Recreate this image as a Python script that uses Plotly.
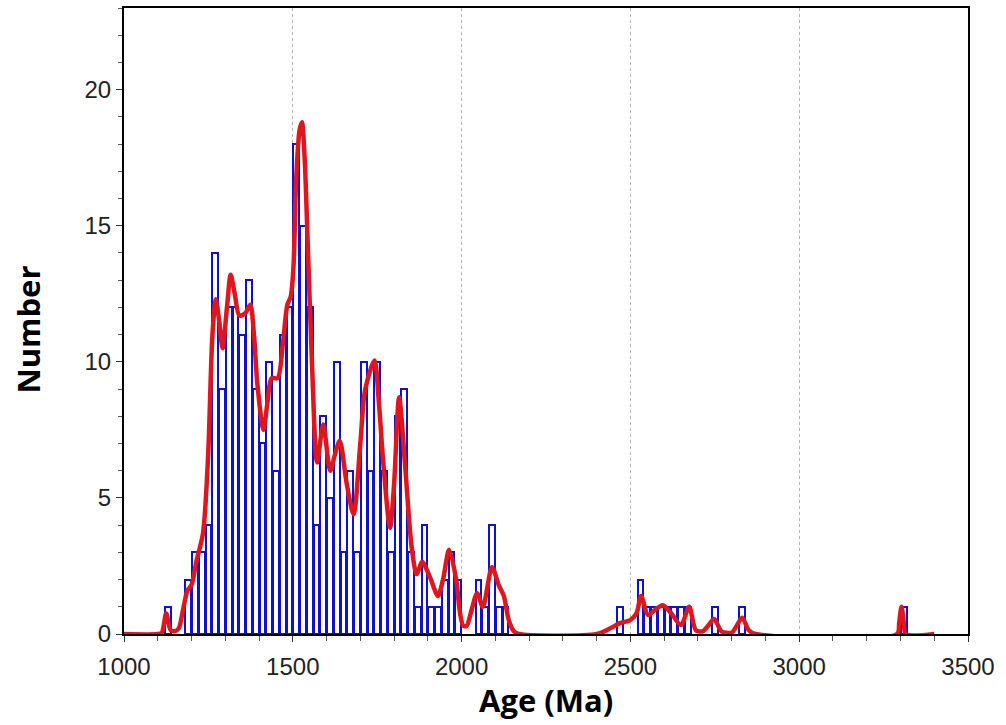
import plotly.graph_objects as go

# Histogram: 20 Ma bins (left edges) and counts
bin_left = [1120, 1180, 1200, 1220, 1240, 1260, 1280, 1300, 1320, 1340, 1360, 1380,
            1400, 1420, 1440, 1460, 1480, 1500, 1520, 1540, 1560, 1580, 1600, 1620,
            1640, 1660, 1680, 1700, 1720, 1740, 1760, 1780, 1800, 1820, 1840, 1860,
            1880, 1900, 1920, 1940, 1960, 1980, 2040, 2060, 2080, 2100, 2120,
            2460, 2520, 2540, 2560, 2580, 2600, 2620, 2640, 2660, 2740, 2820, 3300]
counts = [1, 2, 3, 3, 4, 14, 9, 12, 12, 11, 13, 9,
          7, 10, 6, 11, 12, 18, 15, 12, 4, 8, 5, 10,
          3, 6, 3, 10, 6, 10, 6, 3, 8, 9, 3, 1,
          4, 1, 1, 2, 3, 2, 2, 1, 4, 1, 1,
          1, 2, 1, 1, 1, 1, 1, 1, 1, 1, 1, 1]
bin_width = 20

# Probability density curve
kde_age = [1000, 1100, 1112, 1125, 1138, 1150, 1162, 1175, 1188, 1200, 1215, 1234,
           1249, 1262, 1272, 1282, 1292, 1305, 1316, 1328, 1342, 1360, 1374, 1385,
           1395, 1413, 1425, 1437, 1455, 1470, 1484, 1494, 1502, 1510, 1520, 1527,
           1535, 1543, 1557, 1572, 1590, 1611, 1625, 1639, 1660, 1680, 1700, 1714,
           1742, 1755, 1768, 1788, 1800, 1815, 1832, 1852, 1867, 1883, 1906, 1930,
           1945, 1963, 1984, 1995, 2005, 2015, 2030, 2046, 2063, 2090, 2110, 2125,
           2140, 2155, 2170, 2400, 2439, 2469, 2498, 2518, 2532, 2552, 2572, 2596,
           2621, 2650, 2674, 2694, 2714, 2730, 2748, 2770, 2800, 2815, 2831, 2850,
           2870, 3290, 3296, 3303, 3310, 3316, 3400]
kde_val = [0, 0, 0.05, 0.75, 0.15, 0.1, 0.2, 0.9, 1.6, 1.8, 2.7, 3.7,
           6.5, 11.0, 12.3, 11.5, 10.5, 12.0, 13.2, 12.5, 11.7, 11.8, 12.1, 11.0,
           9.2, 7.5, 8.5, 9.4, 9.4, 10.6, 12.1, 12.4, 13.5, 16.7, 18.5, 18.8,
           17.5, 14.8, 9.9, 6.3, 7.7, 6.0, 6.6, 7.1, 5.5, 4.4, 7.0, 8.95,
           10.05, 8.5, 6.3, 3.9, 5.5, 8.7, 6.3, 3.2, 2.2, 2.65, 2.1, 1.4,
           2.0, 3.1, 2.0, 0.8, 0.3, 0.3, 0.9, 1.5, 1.0, 2.45, 1.8, 1.4,
           0.5, 0.1, 0, 0, 0.2, 0.4, 0.5, 0.76, 1.4, 0.7, 0.88, 1.06,
           0.76, 0.33, 1.0, 0.14, 0.1, 0.3, 0.55, 0.1, 0.05, 0.3, 0.6, 0.15,
           0, 0, 0.4, 1.0, 0.4, 0, 0]

x_ticks = [1000, 1500, 2000, 2500, 3000, 3500]
y_ticks = [0, 5, 10, 15, 20]
x_title = "Age (Ma)"
y_title = "Number"

centers = [b + bin_width / 2 for b in bin_left]

fig = go.Figure()
fig.add_trace(go.Bar(
    x=centers, y=counts, width=bin_width * 0.86,
    marker=dict(color="rgba(255,255,255,0)", line=dict(color="#1010d0", width=2)),
    hoverinfo="x+y", showlegend=False,
))
fig.add_trace(go.Scatter(
    x=kde_age, y=kde_val, mode="lines",
    line=dict(color="#e0161e", width=4.5, shape="spline", smoothing=0.8),
    cliponaxis=False, showlegend=False,
))

title_font = dict(family="Open Sans, sans-serif", size=31, color="black")
fig.update_layout(
    width=1006, height=725,
    margin=dict(l=124, r=38, t=8, b=91),
    plot_bgcolor="white", paper_bgcolor="white",
    font=dict(family="Liberation Sans, Arial, sans-serif", size=24, color="#222222"),
    bargap=0,
    annotations=[
        dict(text="<b>" + x_title + "</b>", xref="paper", yref="paper", x=0.5, y=-0.106,
             xanchor="center", yanchor="middle", showarrow=False, font=title_font),
        dict(text="<b>" + y_title + "</b>", xref="paper", yref="paper", x=-0.114, y=0.486,
             xanchor="center", yanchor="middle", textangle=-90, showarrow=False, font=title_font),
    ],
)
fig.update_xaxes(
    range=[1000, 3500], tickvals=x_ticks, ticktext=[str(v) for v in x_ticks],
    showline=True, linecolor="black", linewidth=2, mirror=True,
    showgrid=True, gridcolor="#b4b4b4", gridwidth=1, griddash="dot",
    ticks="outside", ticklen=6, tickcolor="#333333", ticklabelstandoff=4,
    minor=dict(dtick=100, ticks="outside", ticklen=5, tickcolor="#555555", showgrid=False),
    zeroline=False, automargin=False,
)
fig.update_yaxes(
    range=[0, 23], tickvals=y_ticks, ticktext=[str(v) for v in y_ticks],
    showline=True, linecolor="black", linewidth=2, mirror=True,
    showgrid=False, zeroline=False, automargin=False,
    ticks="outside", ticklen=6, tickcolor="#333333",
    minor=dict(dtick=1, ticks="outside", ticklen=4, tickcolor="#555555"),
)

fig.write_html("out.html")
